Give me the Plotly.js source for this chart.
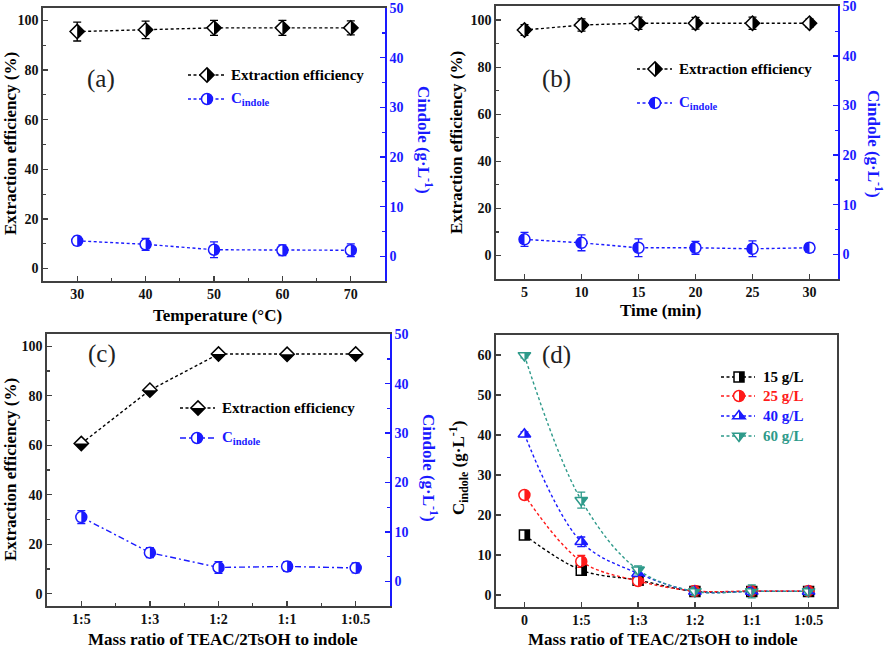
<!DOCTYPE html>
<html><head><meta charset="utf-8">
<script src="https://cdn.plot.ly/plotly-3.0.1.min.js"></script>
<style>html,body{margin:0;padding:0;background:#fff}#chart{width:886px;height:648px}</style>
</head><body><div id="chart"></div>
<script>
// ---------- data ----------
const tempX = [30, 40, 50, 60, 70];
const tempEff = [95.5, 96.2, 97.0, 97.0, 97.0];
const tempEffErr = [3.8, 3.5, 3.0, 3.0, 2.8];
const tempC = [3.1, 2.4, 1.3, 1.2, 1.2];
const tempCErr = [0.9, 1.2, 1.6, 1.1, 1.3];

const timeX = [5, 10, 15, 20, 25, 30];
const timeEff = [95.8, 97.9, 98.7, 98.7, 98.7, 98.7];
const timeEffErr = [2.3, 2.6, 2.6, 2.5, 2.6, 1.8];
const timeC = [3.0, 2.3, 1.3, 1.3, 1.1, 1.3];
const timeCErr = [1.4, 1.6, 1.8, 1.3, 1.6, 0.9];

const ratioCats = ['1:5', '1:3', '1:2', '1:1', '1:0.5'];
const ratioEff = [60.7, 82.3, 96.9, 96.8, 96.9];
const ratioEffErr = [1.0, 1.0, 1.0, 1.0, 1.0];
const ratioC = [13.0, 5.8, 2.8, 3.0, 2.7];
const ratioCErr = [1.3, 1.0, 1.2, 1.0, 1.0];

const dCats = ['0', '1:5', '1:3', '1:2', '1:1', '1:0.5'];
const seriesNames = ['15 g/L', '25 g/L', '40 g/L', '60 g/L'];
const c15 = [15.0, 6.2, 3.7, 0.9, 0.9, 0.9];
const c25 = [25.0, 8.4, 3.5, 1.0, 1.0, 1.0];
const c40 = [40.2, 13.3, 5.4, 0.9, 0.9, 0.9];
const c60 = [59.9, 23.7, 6.3, 0.9, 0.9, 0.9];
const e15 = [0.6, 0.8, 0.6, 0.8, 0.8, 0.8];
const e25 = [0.6, 1.5, 0.8, 1.2, 1.0, 1.0];
const e40 = [0.6, 1.2, 0.8, 1.0, 1.0, 1.0];
const e60 = [0.6, 2.0, 1.0, 1.0, 1.6, 1.0];

// ---------- style ----------
const W = 886, H = 648;
const px = v => v / W, py = v => 1 - v / H;
const FONT = 'Liberation Serif, Times New Roman, serif';
const BLACK = '#000000', BLUE = '#1a1aff', RED = '#ff1a1a', TEAL = '#2e9a8a', AXC = '#404040';
const DOT = '3px,2.5px', DASHDOT = '6px,3px,2px,3px';

function geom(sym, size) {
  const r = size / 2, rd = 1.3 * r, rt = 2 * r / Math.sqrt(3), k = 0.5523 * r;
  const f = n => n.toFixed(2);
  const full = {
    'diamond': `M${f(rd)},0L0,${f(rd)}L${f(-rd)},0L0,${f(-rd)}Z`,
    'circle': `M0,${f(r)}C${f(k)},${f(r)} ${f(r)},${f(k)} ${f(r)},0C${f(r)},${f(-k)} ${f(k)},${f(-r)} 0,${f(-r)}C${f(-k)},${f(-r)} ${f(-r)},${f(-k)} ${f(-r)},0C${f(-r)},${f(k)} ${f(-k)},${f(r)} 0,${f(r)}Z`,
    'square': `M${f(r)},${f(r)}H${f(-r)}V${f(-r)}H${f(r)}Z`,
    'triangle-up': `M${f(-rt)},${f(-r/2)}H${f(rt)}L0,${f(r)}Z`,
    'triangle-down': `M${f(-rt)},${f(r/2)}H${f(rt)}L0,${f(-r)}Z`
  };
  const half = {
    'diamond-right': `M0,${f(rd)}L${f(rd)},0L0,${f(-rd)}Z`,
    'diamond-bottom': `M${f(-rd)},0L${f(rd)},0L0,${f(-rd)}Z`,
    'circle-right': `M0,${f(r)}C${f(k)},${f(r)} ${f(r)},${f(k)} ${f(r)},0C${f(r)},${f(-k)} ${f(k)},${f(-r)} 0,${f(-r)}Z`,
    'circle-left': `M0,${f(r)}C${f(-k)},${f(r)} ${f(-r)},${f(k)} ${f(-r)},0C${f(-r)},${f(-k)} ${f(-k)},${f(-r)} 0,${f(-r)}Z`,
    'square-right': `M0,${f(r)}H${f(r)}V${f(-r)}H0Z`,
    'triangle-up-right': `M0,${f(r)}L${f(rt)},${f(-r/2)}L0,${f(-r/2)}Z`,
    'triangle-down-right': `M0,${f(-r)}L${f(rt)},${f(r/2)}L0,${f(r/2)}Z`
  };
  return {full: full[sym], half: half};
}

const traces = [];
const shapes = [];
const annotations = [];

function addSeries(o) {
  traces.push({
    x: o.x, y: o.y, xaxis: o.xa, yaxis: o.ya, type: 'scatter', mode: 'lines+markers',
    line: {color: o.color, width: 1.4, dash: o.dash, shape: o.spline ? 'spline' : 'linear', smoothing: 1},
    marker: {symbol: o.sym, size: o.size, color: 'white', line: {color: o.color, width: 1.5}},
    error_y: {type: 'data', array: o.err, visible: true, color: o.color, thickness: 1.3, width: 4},
    cliponaxis: false, hoverinfo: 'skip'
  });
  const g = geom(o.sym, o.size);
  o.x.forEach((xv, i) => {
    shapes.push({type: 'path', xref: o.xa, yref: o.ya, xsizemode: 'pixel', ysizemode: 'pixel',
      xanchor: xv, yanchor: o.y[i], path: g.half[o.half], fillcolor: o.color, line: {width: 0}, layer: 'above'});
  });
}

function addLegend(o) {
  shapes.push({type: 'line', xref: 'paper', yref: 'paper', x0: px(o.x0), x1: px(o.x1), y0: py(o.y), y1: py(o.y),
    line: {color: o.color, width: 1.4, dash: o.dash}});
  const g = geom(o.sym, o.size);
  shapes.push({type: 'path', xref: 'paper', yref: 'paper', xsizemode: 'pixel', ysizemode: 'pixel',
    xanchor: px(o.mx), yanchor: py(o.y), path: g.full, fillcolor: 'white', line: {color: o.color, width: 1.5}});
  shapes.push({type: 'path', xref: 'paper', yref: 'paper', xsizemode: 'pixel', ysizemode: 'pixel',
    xanchor: px(o.mx), yanchor: py(o.y), path: g.half[o.half], fillcolor: o.color, line: {width: 0}});
  annotations.push({xref: 'paper', yref: 'paper', x: px(o.tx), y: py(o.y), xanchor: 'left', yanchor: 'middle',
    text: o.text, showarrow: false, font: {family: FONT, size: 15, weight: 700, color: o.color}});
}

function title(text, x, y, angle, color) {
  annotations.push({xref: 'paper', yref: 'paper', x: px(x), y: py(y), xanchor: 'center', yanchor: 'middle',
    text: text, textangle: angle, showarrow: false, font: {family: FONT, size: 17, weight: 700, color: color}});
}
function panelLabel(text, x, y) {
  annotations.push({xref: 'paper', yref: 'paper', x: px(x), y: py(y), xanchor: 'center', yanchor: 'middle',
    text: text, showarrow: false, font: {family: FONT, size: 25, color: '#222'}});
}

// ---------- (a) ----------
addSeries({x: tempX, y: tempEff, err: tempEffErr, xa: 'x', ya: 'y', color: BLACK, dash: DOT, sym: 'diamond', size: 11, half: 'diamond-right'});
addSeries({x: tempX, y: tempC, err: tempCErr, xa: 'x', ya: 'y2', color: BLUE, dash: DOT, sym: 'circle', size: 11, half: 'circle-right'});
// ---------- (b) ----------
addSeries({x: timeX, y: timeEff, err: timeEffErr, xa: 'x2', ya: 'y3', color: BLACK, dash: DOT, sym: 'diamond', size: 11, half: 'diamond-right'});
addSeries({x: timeX, y: timeC, err: timeCErr, xa: 'x2', ya: 'y4', color: BLUE, dash: DOT, sym: 'circle', size: 11, half: 'circle-left'});
// ---------- (c) ----------
const ratioIdx = ratioCats.map((c, i) => i);
addSeries({x: ratioIdx, y: ratioEff, err: ratioEffErr, xa: 'x3', ya: 'y5', color: BLACK, dash: DOT, sym: 'diamond', size: 11, half: 'diamond-bottom'});
addSeries({x: ratioIdx, y: ratioC, err: ratioCErr, xa: 'x3', ya: 'y6', color: BLUE, dash: DASHDOT, sym: 'circle', size: 11, half: 'circle-right'});
// ---------- (d) ----------
const dIdx = dCats.map((c, i) => i);
addSeries({x: dIdx, y: c15, err: e15, xa: 'x4', ya: 'y7', color: BLACK, dash: DOT, sym: 'square', size: 10, half: 'square-right', spline: true});
addSeries({x: dIdx, y: c25, err: e25, xa: 'x4', ya: 'y7', color: RED, dash: DOT, sym: 'circle', size: 11, half: 'circle-right', spline: true});
addSeries({x: dIdx, y: c40, err: e40, xa: 'x4', ya: 'y7', color: BLUE, dash: DOT, sym: 'triangle-up', size: 11, half: 'triangle-up-right', spline: true});
addSeries({x: dIdx, y: c60, err: e60, xa: 'x4', ya: 'y7', color: TEAL, dash: DOT, sym: 'triangle-down', size: 11, half: 'triangle-down-right', spline: true});

// ---------- legends ----------
addLegend({x0: 188, x1: 224, y: 75, mx: 207, color: BLACK, dash: DOT, sym: 'diamond', size: 11, half: 'diamond-right', text: 'Extraction efficiency', tx: 229});
addLegend({x0: 188, x1: 224, y: 99, mx: 207, color: BLUE, dash: DOT, sym: 'circle', size: 11, half: 'circle-right', text: 'C<sub>indole</sub>', tx: 229});
addLegend({x0: 637, x1: 672, y: 69, mx: 655, color: BLACK, dash: DOT, sym: 'diamond', size: 11, half: 'diamond-right', text: 'Extraction efficiency', tx: 677});
addLegend({x0: 637, x1: 672, y: 103, mx: 655, color: BLUE, dash: DOT, sym: 'circle', size: 11, half: 'circle-left', text: 'C<sub>indole</sub>', tx: 677});
addLegend({x0: 180, x1: 215, y: 408, mx: 198, color: BLACK, dash: DOT, sym: 'diamond', size: 11, half: 'diamond-bottom', text: 'Extraction efficiency', tx: 220});
addLegend({x0: 180, x1: 215, y: 438, mx: 197, color: BLUE, dash: DASHDOT, sym: 'circle', size: 11, half: 'circle-right', text: 'C<sub>indole</sub>', tx: 220});
const dLegSyms = [['square', 10, 'square-right', BLACK], ['circle', 11, 'circle-right', RED], ['triangle-up', 11, 'triangle-up-right', BLUE], ['triangle-down', 11, 'triangle-down-right', TEAL]];
const dLegY = [377, 396, 416, 436];
seriesNames.forEach((n, i) => {
  addLegend({x0: 721, x1: 755, y: dLegY[i], mx: 739, color: dLegSyms[i][3], dash: DOT, sym: dLegSyms[i][0], size: dLegSyms[i][1], half: dLegSyms[i][2], text: n, tx: 761});
});

// ---------- titles ----------
title('Extraction efficiency (%)', 10, 144, -90, BLACK);
title('Extraction efficiency (%)', 456, 143, -90, BLACK);
title('Extraction efficiency (%)', 10, 470, -90, BLACK);
title('C<sub>indole</sub> (g·L<sup>-1</sup>)', 458, 468, -90, BLACK);
title('Cindole (g·L<sup>-1</sup>)', 425, 140, 90, BLUE);
title('Cindole (g·L<sup>-1</sup>)', 875, 144, 90, BLUE);
title('Cindole (g·L<sup>-1</sup>)', 430, 468, 90, BLUE);
title('Temperature (°C)', 217, 315, 0, BLACK);
title('Time (min)', 660, 310, 0, BLACK);
title('Mass ratio of TEAC/2TsOH to indole', 223, 639, 0, BLACK);
title('Mass ratio of TEAC/2TsOH to indole', 663, 639, 0, BLACK);
panelLabel('(a)', 101, 79);
panelLabel('(b)', 556, 79);
panelLabel('(c)', 102, 354);
panelLabel('(d)', 556, 355);

// ---------- axes ----------
function ax(extra, color) {
  const c = color || AXC;
  const tc = color || '#111';
  return Object.assign({
    showline: true, linewidth: 1.6, linecolor: c, ticks: 'inside', ticklen: 5, tickwidth: 1.3, tickcolor: c,
    zeroline: false, showgrid: false, fixedrange: true, ticklabeloverflow: 'allow',
    tickfont: {family: FONT, size: 14, weight: 700, color: tc}
  }, extra);
}
function minor(d, color) {
  return {ticks: 'inside', ticklen: 3, tickwidth: 1.2, tickcolor: color || AXC, dtick: d, showgrid: false};
}

const layout = {
  width: W, height: H, margin: {l: 0, r: 0, t: 0, b: 0},
  paper_bgcolor: 'white', plot_bgcolor: 'white', showlegend: false,
  // (a)
  xaxis: ax({domain: [px(43), px(385)], anchor: 'y', range: [25, 75], dtick: 10, tick0: 30, minor: minor(5), mirror: true}),
  yaxis: ax({domain: [py(281), py(8)], anchor: 'x', range: [-5, 105], dtick: 20, tick0: 0, minor: minor(10)}),
  yaxis2: ax({overlaying: 'y', side: 'right', anchor: 'x', range: [-5, 50.05], dtick: 10, tick0: 0, minor: minor(5, BLUE)}, BLUE),
  // (b)
  xaxis2: ax({domain: [px(496), px(838)], anchor: 'y3', range: [2.5, 32.5], dtick: 5, tick0: 5, mirror: true}),
  yaxis3: ax({domain: [py(279), py(6)], anchor: 'x2', range: [-10, 106], dtick: 20, tick0: 0, minor: minor(10)}),
  yaxis4: ax({overlaying: 'y3', side: 'right', anchor: 'x2', range: [-5, 50.1], dtick: 10, tick0: 0, minor: minor(5, BLUE)}, BLUE),
  // (c)
  xaxis3: ax({domain: [px(47), px(390)], anchor: 'y5', range: [-0.5, 4.5], tickmode: 'array', tickvals: ratioIdx, ticktext: ratioCats, minor: Object.assign(minor(0.5), {tickmode: 'linear', tick0: 0.5, dtick: 1}), mirror: true}),
  yaxis5: ax({domain: [py(606), py(334)], anchor: 'x3', range: [-5, 105], dtick: 20, tick0: 0, minor: minor(10)}),
  yaxis6: ax({overlaying: 'y5', side: 'right', anchor: 'x3', range: [-5, 50.05], dtick: 10, tick0: 0, minor: minor(5, BLUE)}, BLUE),
  // (d)
  xaxis4: ax({domain: [px(496), px(837)], anchor: 'y7', range: [-0.5, 5.5], tickmode: 'array', tickvals: dIdx, ticktext: dCats, mirror: true}),
  yaxis7: ax({domain: [py(607), py(335)], anchor: 'x4', range: [-3, 65], dtick: 10, tick0: 0, mirror: true}),
  shapes: shapes, annotations: annotations
};

Plotly.newPlot('chart', traces, layout, {staticPlot: true, displayModeBar: false});
</script>
</body></html>
